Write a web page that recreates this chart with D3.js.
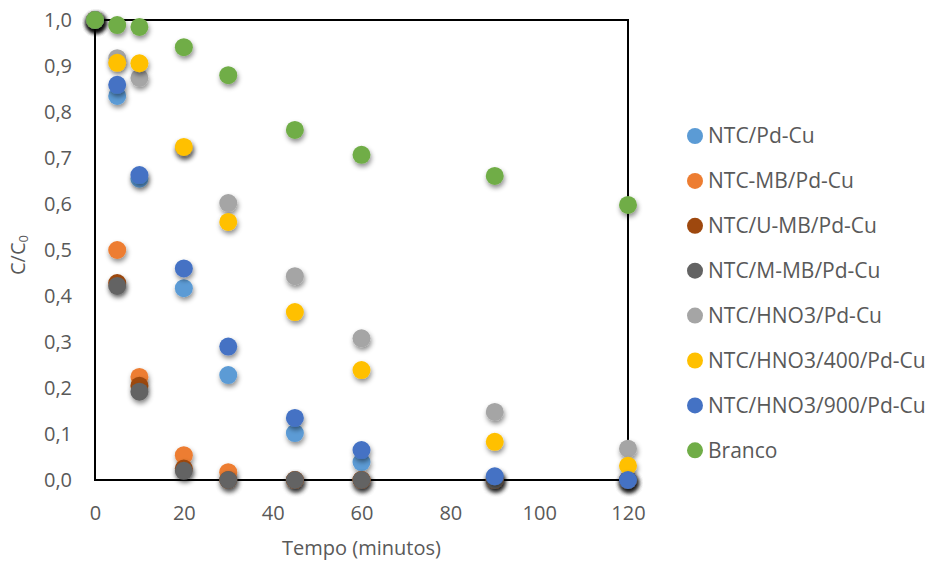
<!DOCTYPE html>
<html>
<head>
<meta charset="utf-8">
<script src="https://cdn.jsdelivr.net/npm/d3@7"></script>
<style>
  body { margin: 0; background: #fff; }
  text { font-family: "Open Sans", "Noto Sans", sans-serif; fill: #595959; }
</style>
</head>
<body>
<div id="root"></div>
<script>
var width = 931;
var height = 563;

// tempo (minutos)
var times = [0, 5, 10, 20, 30, 45, 60, 90, 120];
// C/C0 por amostra
var ntcPdCu     = [1, 0.835, 0.655, 0.417, 0.228, 0.102, 0.039, 0.005, 0.0];
var ntcMbPdCu   = [1, 0.500, 0.224, 0.054, 0.017, 0.0, 0.0, 0.0, 0.0];
var ntcUmbPdCu  = [1, 0.428, 0.205, 0.025, 0.0, 0.0, 0.0, 0.0, 0.0];
var ntcMmbPdCu  = [1, 0.422, 0.192, 0.020, 0.0, 0.0, 0.0, 0.0, 0.0];
var ntcHno3PdCu = [1, 0.917, 0.874, 0.722, 0.602, 0.443, 0.308, 0.148, 0.068];
var ntcHno3400  = [1, 0.907, 0.906, 0.724, 0.561, 0.365, 0.239, 0.083, 0.031];
var ntcHno3900  = [1, 0.859, 0.663, 0.460, 0.290, 0.135, 0.065, 0.008, 0.0];
var branco      = [1, 0.989, 0.985, 0.941, 0.880, 0.761, 0.707, 0.661, 0.598];

var seriesNames = ['NTC/Pd-Cu', 'NTC-MB/Pd-Cu', 'NTC/U-MB/Pd-Cu', 'NTC/M-MB/Pd-Cu',
  'NTC/HNO3/Pd-Cu', 'NTC/HNO3/400/Pd-Cu', 'NTC/HNO3/900/Pd-Cu', 'Branco'];
var seriesValues = [ntcPdCu, ntcMbPdCu, ntcUmbPdCu, ntcMmbPdCu, ntcHno3PdCu, ntcHno3400, ntcHno3900, branco];
var colors = ['#5b9bd5', '#ed7d31', '#9e480e', '#636363', '#a5a5a5', '#ffc000', '#4472c4', '#70ad47'];

var xTicks = [0, 20, 40, 60, 80, 100, 120];
var yTicks = [0, 0.1, 0.2, 0.3, 0.4, 0.5, 0.6, 0.7, 0.8, 0.9, 1.0];

var plot = { left: 95, right: 628, top: 20, bottom: 480 };

var svg = d3.select('#root')
    .append('svg')
    .attr('width', width).attr('height', height);

var defs = svg.append('defs');
var shadow = defs.append('filter').attr('id', 'shadow')
    .attr('x', '-60%').attr('y', '-60%').attr('width', '220%').attr('height', '220%');
shadow.append('feDropShadow')
    .attr('dx', 1).attr('dy', 3).attr('stdDeviation', 2.4)
    .attr('flood-color', '#000').attr('flood-opacity', 0.45);

var xScale = d3.scaleLinear().domain([0, 120]).range([plot.left, plot.right]);
var yScale = d3.scaleLinear().domain([0, 1]).range([plot.bottom, plot.top]);

var ptBr = d3.formatLocale({ decimal: ',', thousands: '.', grouping: [3], currency: ['', ''] });
var fmt = ptBr.format('.1f');

// eixos
var xAxis = d3.axisBottom(xScale).tickValues(xTicks).tickSize(0).tickPadding(26);
var yAxis = d3.axisLeft(yScale).tickValues(yTicks).tickFormat(fmt).tickSize(0).tickPadding(23);

var gx = svg.append('g').attr('transform', 'translate(0,' + plot.bottom + ')').call(xAxis);
var gy = svg.append('g').attr('transform', 'translate(' + plot.left + ',0)').call(yAxis);
[gx, gy].forEach(function (g) {
  g.select('.domain').remove();
  g.selectAll('text').style('font-size', '20px').attr('fill', '#595959')
    .style('font-family', '"Open Sans", sans-serif');
});

// moldura
svg.append('rect')
    .attr('x', plot.left).attr('y', plot.top)
    .attr('width', plot.right - plot.left).attr('height', plot.bottom - plot.top)
    .attr('fill', 'none').attr('stroke', '#000').attr('stroke-width', 2);

// pontos
seriesValues.forEach(function (vals, s) {
  svg.append('g')
    .attr('filter', 'url(#shadow)')
    .selectAll('circle')
    .data(vals).enter()
    .append('circle')
    .attr('cx', function (d, i) { return xScale(times[i]); })
    .attr('cy', function (d) { return yScale(d); })
    .attr('r', 9)
    .attr('fill', colors[s]);
});

// titulos
svg.append('text')
    .attr('x', (plot.left + plot.right) / 2).attr('y', 555)
    .attr('text-anchor', 'middle')
    .style('font-size', '20px')
    .text('Tempo (minutos)');

var yt = svg.append('text')
    .attr('transform', 'translate(25,255) rotate(-90)')
    .attr('text-anchor', 'middle')
    .style('font-size', '20px');
yt.append('tspan').text('C/C');
yt.append('tspan').text('0').style('font-size', '13px').attr('dy', 3);

// legenda
var legend = svg.append('g').attr('transform', 'translate(695,136)');
var items = legend.selectAll('g')
    .data(seriesNames).enter()
    .append('g')
    .attr('transform', function (d, i) { return 'translate(0,' + (i * 44.9) + ')'; });
items.append('circle').attr('r', 8).attr('fill', function (d, i) { return colors[i]; });
items.append('text')
    .attr('x', 13).attr('dy', '0.35em')
    .style('font-size', '21px')
    .text(function (d) { return d; });
</script>
</body>
</html>
